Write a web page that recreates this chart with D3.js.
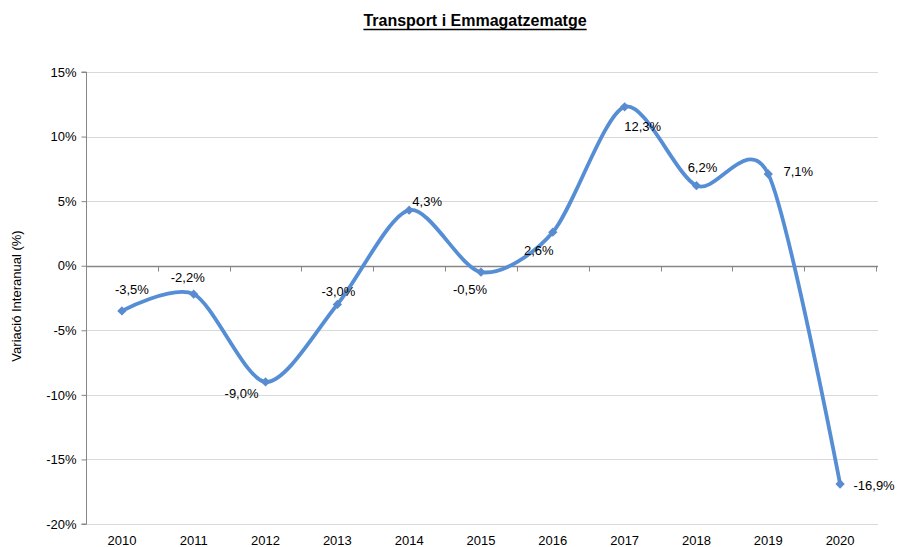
<!DOCTYPE html>
<html>
<head>
<meta charset="utf-8">
<script src="https://cdn.jsdelivr.net/npm/d3@7"></script>
<style>
  html, body { margin: 0; padding: 0; background: #fff; }
  text { font-family: "Liberation Sans", Arial, sans-serif; }
</style>
</head>
<body>
<svg id="chart" width="897" height="547"></svg>
<script>
const years = ["2010","2011","2012","2013","2014","2015","2016","2017","2018","2019","2020"];
const values = [-3.5, -2.2, -9.0, -3.0, 4.3, -0.5, 2.6, 12.3, 6.2, 7.1, -16.9];
const valueLabels = ["-3,5%","-2,2%","-9,0%","-3,0%","4,3%","-0,5%","2,6%","12,3%","6,2%","7,1%","-16,9%"];
const yTicks = [-20, -15, -10, -5, 0, 5, 10, 15];
const yTickLabels = ["-20%","-15%","-10%","-5%","0%","5%","10%","15%"];
// label offsets (dx, dy) relative to each point
const labelDx = [10, -6, -24, 1, 18, -11, -14, 18, 6, 30, 34];
const labelDy = [-21, -17, 12, -13, -9, 17, 18, 20, -18, -3, 1];

const svg = d3.select("#chart");
const mLeft = 86, mRight = 876, mTop = 72, mBottom = 524;

const x = d3.scaleBand().domain(years).range([mLeft, mRight]).padding(0);
const y = d3.scaleLinear().domain([-20, 15]).range([mBottom, mTop]);

// Title
const title = svg.append("text")
  .attr("x", 475).attr("y", 26)
  .attr("text-anchor", "middle")
  .attr("font-size", 16).attr("font-weight", "bold")
  .attr("fill", "#000")
  .text("Transport i Emmagatzematge");
const tb = title.node().getBBox();
svg.append("line")
  .attr("x1", tb.x).attr("x2", tb.x + tb.width)
  .attr("y1", 29.5).attr("y2", 29.5)
  .attr("stroke", "#000").attr("stroke-width", 1.3);

// Gridlines
svg.append("g").selectAll("line").data(yTicks.filter(d => d !== 0)).join("line")
  .attr("x1", mLeft).attr("x2", mRight + 2)
  .attr("y1", d => Math.round(y(d)) + 0.5).attr("y2", d => Math.round(y(d)) + 0.5)
  .attr("stroke", "#d9d9d9").attr("stroke-width", 1);

// Y axis
const yAxis = d3.axisLeft(y).tickValues(yTicks)
  .tickFormat((d, i) => yTickLabels[i]).tickSize(5).tickPadding(5);
const gy = svg.append("g").attr("transform", `translate(${mLeft + 0.5},0)`).call(yAxis);
gy.select(".domain").attr("stroke", "#868686").attr("d", `M-5,${y(15)}H0V${y(-20)}H-5`);
gy.selectAll(".tick line").attr("stroke", "#868686");
gy.selectAll(".tick text").attr("font-size", 13).attr("fill", "#000")
  .attr("font-family", "Liberation Sans, Arial, sans-serif");

// X axis at zero
const zeroY = Math.round(y(0)) + 0.5;
svg.append("line").attr("x1", mLeft).attr("x2", mRight + 2)
  .attr("y1", zeroY).attr("y2", zeroY)
  .attr("stroke", "#868686").attr("stroke-width", 1.3);
const boundaries = years.map(d => x(d)).concat([x(years[years.length - 1]) + x.bandwidth()]);
svg.append("g").selectAll("line").data(boundaries).join("line")
  .attr("x1", d => Math.round(d) + 0.5).attr("x2", d => Math.round(d) + 0.5)
  .attr("y1", zeroY).attr("y2", zeroY + 5)
  .attr("stroke", "#868686").attr("stroke-width", 1);

// X tick labels at bottom
svg.append("g").selectAll("text").data(years).join("text")
  .attr("x", d => x(d) + x.bandwidth() / 2)
  .attr("y", 545)
  .attr("text-anchor", "middle")
  .attr("font-size", 13).attr("fill", "#000")
  .text(d => d);

// Y axis title
svg.append("text")
  .attr("transform", "translate(21,296) rotate(-90)")
  .attr("text-anchor", "middle")
  .attr("font-size", 13).attr("fill", "#000")
  .text("Variació Interanual (%)");

// Line
const pts = years.map((d, i) => [x(d) + x.bandwidth() / 2, y(values[i])]);
svg.append("path")
  .attr("d", d3.line().curve(d3.curveCardinal.tension(0.15))(pts))
  .attr("fill", "none").attr("stroke", "#558ED5").attr("stroke-width", 3.8)
  .attr("stroke-linejoin", "round").attr("stroke-linecap", "round");

// Markers
svg.append("g").selectAll("path").data(pts).join("path")
  .attr("transform", d => `translate(${d[0]},${d[1]}) rotate(45)`)
  .attr("d", "M-3.3,-3.3H3.3V3.3H-3.3Z")
  .attr("fill", "#5B8BCF");

// Data labels
svg.append("g").selectAll("text").data(pts).join("text")
  .attr("x", (d, i) => d[0] + labelDx[i])
  .attr("y", (d, i) => d[1] + labelDy[i])
  .attr("dy", "0.35em")
  .attr("text-anchor", "middle")
  .attr("font-size", 13).attr("fill", "#000")
  .text((d, i) => valueLabels[i]);
</script>
</body>
</html>
